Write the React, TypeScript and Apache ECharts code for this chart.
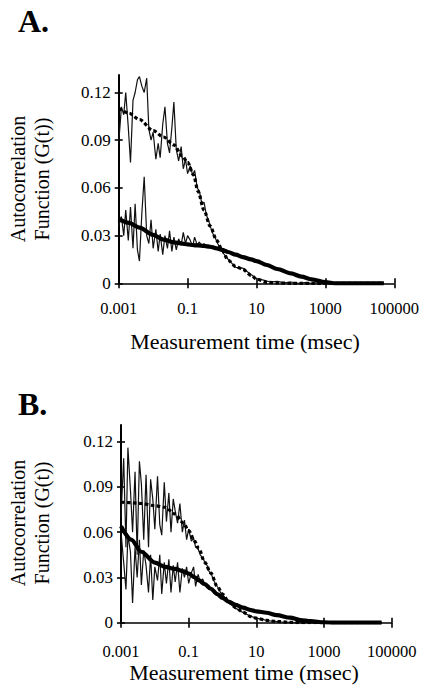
import React, { useEffect, useRef } from "react";
import * as echarts from "echarts";

// ---- tick values ----
const X_TICKS = [0.001, 0.1, 10, 1000, 100000];
const Y_TICKS = [0, 0.03, 0.06, 0.09, 0.12];

// ---- lag times (msec) ----
const T_NOISY = [
  0.001, 0.0012, 0.0014, 0.0016, 0.0019, 0.0022, 0.0026, 0.003, 0.0035, 0.004, 0.0047, 0.0055, 0.0065, 0.0075, 0.0087,
  0.01, 0.012, 0.014, 0.016, 0.019, 0.022, 0.026, 0.03, 0.035, 0.04, 0.047, 0.055, 0.065, 0.075, 0.087,
  0.1, 0.12, 0.14, 0.16, 0.19, 0.22, 0.26, 0.3, 0.35, 0.4, 0.47, 0.55, 0.65, 0.75, 0.87,
  1, 1.5, 2.5, 4, 6.5, 10, 16, 25, 40, 65, 100, 160, 250, 400, 650, 1000, 1600, 2500, 4000, 6500, 10000, 20000, 50000,
];
const T_FIT = [
  0.001, 0.002, 0.004, 0.01, 0.02, 0.04, 0.07, 0.1, 0.15, 0.2, 0.3, 0.45, 0.7, 1, 1.5, 2.5, 4, 7, 10, 20, 40, 100,
  200, 400, 1000, 2000, 10000, 50000,
];

// ---- panel A ----
const A_DATA_1 = [
  0.088, 0.111, 0.106, 0.12, 0.098, 0.076, 0.115, 0.12, 0.128, 0.13, 0.124, 0.12, 0.129, 0.097, 0.09,
  0.095, 0.078, 0.088, 0.079, 0.1, 0.111, 0.088, 0.082, 0.098, 0.114, 0.084, 0.077, 0.086, 0.072, 0.078,
  0.069, 0.074, 0.068, 0.071, 0.06, 0.058, 0.05, 0.051, 0.043, 0.04, 0.035, 0.031, 0.028, 0.025, 0.022,
  0.02, 0.015, 0.01, 0.0095, 0.006, 0.003, 0.002, 0.0008, 0.0012, 0.0003, 0.0008, 0, 0.0005, 0, 0.0004, 0, 0.0003, 0, 0.0002, 0, 0, 0, 0,
];
const A_DATA_2 = [
  0.036, 0.042, 0.03, 0.046, 0.027, 0.048, 0.022, 0.05, 0.021, 0.014, 0.044, 0.067, 0.03, 0.025, 0.04,
  0.022, 0.034, 0.02, 0.031, 0.018, 0.03, 0.022, 0.033, 0.02, 0.029, 0.021, 0.028, 0.024, 0.032, 0.025,
  0.03, 0.027, 0.023, 0.029, 0.024, 0.026, 0.023, 0.025, 0.023, 0.024, 0.022, 0.0235, 0.022, 0.0225, 0.021,
  0.0215, 0.0197, 0.018, 0.0165, 0.0152, 0.014, 0.0123, 0.0107, 0.009, 0.0075, 0.0062, 0.0048, 0.0036, 0.0025, 0.0013, 0.0007, 0.0002, 0, 0, 0, 0, 0, 0,
];
const A_FIT_1 = [
  0.11, 0.107, 0.103, 0.096, 0.092, 0.087, 0.08, 0.076, 0.068, 0.058, 0.046, 0.036, 0.027, 0.021, 0.0145, 0.0105,
  0.0088, 0.005, 0.0027, 0.0006, 0.0002, 0, 0, 0, 0, 0, 0, 0,
];
const A_FIT_2 = [
  0.0405, 0.038, 0.035, 0.0305, 0.0275, 0.0258, 0.025, 0.0245, 0.024, 0.0238, 0.0235, 0.023, 0.022, 0.021, 0.0197,
  0.018, 0.0165, 0.015, 0.014, 0.0115, 0.009, 0.0062, 0.0042, 0.0025, 0.0007, 0, 0, 0,
];

// ---- panel B ----
const B_DATA_1 = [
  0.07, 0.109, 0.05, 0.116, 0.088, 0.06, 0.1, 0.045, 0.107, 0.092, 0.055, 0.098, 0.05, 0.095, 0.082,
  0.062, 0.097, 0.065, 0.058, 0.093, 0.067, 0.086, 0.06, 0.082, 0.074, 0.066, 0.079, 0.06, 0.068, 0.055,
  0.062, 0.054, 0.056, 0.05, 0.049, 0.045, 0.043, 0.04, 0.038, 0.034, 0.032, 0.028, 0.025, 0.023, 0.02,
  0.019, 0.013, 0.0095, 0.0068, 0.0045, 0.003, 0.002, 0.0012, 0.0008, 0.0003, 0.0002, 0, 0, 0, 0, 0, 0, 0, 0, 0, 0, 0, 0,
];
const B_DATA_2 = [
  0.06, 0.04, 0.022, 0.058, 0.047, 0.013, 0.05, 0.03, 0.055, 0.025, 0.048, 0.038, 0.02, 0.045, 0.015,
  0.037, 0.028, 0.045, 0.019, 0.04, 0.026, 0.042, 0.02, 0.038, 0.027, 0.04, 0.02, 0.036, 0.03, 0.037,
  0.026, 0.033, 0.037, 0.024, 0.032, 0.027, 0.029, 0.025, 0.024, 0.023, 0.022, 0.021, 0.019, 0.018, 0.017,
  0.0165, 0.014, 0.0118, 0.01, 0.0085, 0.0075, 0.0068, 0.006, 0.005, 0.004, 0.0033, 0.0025, 0.0018, 0.0012, 0.0007, 0.0003, 0, 0, 0, 0, 0, 0, 0,
];
const B_FIT_1 = [
  0.08, 0.0795, 0.079, 0.0775, 0.0765, 0.072, 0.066, 0.061, 0.054, 0.049, 0.04, 0.033, 0.024, 0.019, 0.014, 0.0098,
  0.007, 0.004, 0.003, 0.0015, 0.0008, 0.0002, 0, 0, 0, 0, 0, 0,
];
const B_FIT_2 = [
  0.064, 0.055, 0.047, 0.0398, 0.037, 0.0356, 0.034, 0.0325, 0.03, 0.028, 0.0255, 0.0225, 0.019, 0.0165, 0.014,
  0.0118, 0.01, 0.0083, 0.0075, 0.0066, 0.005, 0.0033, 0.0018, 0.001, 0.0003, 0, 0, 0,
];

const FONT = "Liberation Serif";
const INK = "#000";

const pairs = (t: number[], v: number[]) => t.map((x, i) => [x, v[i]]);

const fmtX = (v: number) => (v >= 1 ? v.toFixed(0) : String(Number(v.toPrecision(3))));
const fmtY = (v: number) => (v === 0 ? "0" : v.toFixed(2));

function xAxes(gridIndex: number, margin: number) {
  const base = {
    type: "log" as const,
    logBase: 10,
    gridIndex,
    position: "bottom",
    min: 0.001,
    max: 100000,
    splitLine: { show: false },
    minorTick: { show: false },
  };
  return [
    {
      ...base,
      axisLine: { show: true, lineStyle: { color: INK, width: 1.6 } },
      axisTick: { show: true, customValues: X_TICKS, length: 5, inside: false, lineStyle: { color: INK, width: 1.6 } },
      axisLabel: {
        customValues: X_TICKS,
        formatter: fmtX,
        color: INK,
        fontFamily: FONT,
        fontSize: 16.5,
        margin,
      },
    },
    {
      ...base,
      axisLine: { show: false },
      axisTick: { show: true, customValues: X_TICKS, length: 5, inside: true, lineStyle: { color: INK, width: 1.6 } },
      axisLabel: { show: false },
    },
  ];
}

function yAxes(gridIndex: number) {
  const base = {
    type: "value" as const,
    gridIndex,
    position: "left",
    offset: 0,
    min: 0,
    max: 0.131,
    splitLine: { show: false },
  };
  return [
    {
      ...base,
      axisLine: { show: true, lineStyle: { color: INK, width: 2 } },
      axisTick: { show: true, customValues: Y_TICKS, length: 4, inside: false, lineStyle: { color: INK, width: 1.6 } },
      axisLabel: {
        customValues: Y_TICKS,
        formatter: fmtY,
        color: INK,
        fontFamily: FONT,
        fontSize: 17,
        margin: 8,
      },
    },
    {
      ...base,
      axisLine: { show: false },
      axisTick: { show: true, customValues: Y_TICKS, length: 4, inside: true, lineStyle: { color: INK, width: 1.6 } },
      axisLabel: { show: false },
    },
  ];
}

function panelSeries(axisIndex: number, d1: number[], d2: number[], f1: number[], f2: number[]) {
  const common = {
    type: "line" as const,
    xAxisIndex: axisIndex,
    yAxisIndex: axisIndex,
    symbol: "none",
    silent: true,
    clip: true,
  };
  return [
    { ...common, data: pairs(T_NOISY, d1), lineStyle: { color: "#111", width: 1.2 }, z: 2 },
    { ...common, data: pairs(T_NOISY, d2), lineStyle: { color: "#111", width: 1.2 }, z: 2 },
    {
      ...common,
      data: pairs(T_FIT, f1),
      smooth: 0.3,
      smoothMonotone: "x",
      lineStyle: { color: INK, width: 3.2, type: [3.5, 2.5] },
      z: 3,
    },
    {
      ...common,
      data: pairs(T_FIT, f2),
      smooth: 0.3,
      smoothMonotone: "x",
      lineStyle: { color: INK, width: 4.2 },
      z: 4,
    },
  ];
}

function label(text: string, x: number, y: number, size: number, opts: any = {}) {
  return {
    type: "text",
    x,
    y,
    rotation: opts.rotation || 0,
    style: {
      text,
      fill: INK,
      fontFamily: FONT,
      fontSize: size,
      fontWeight: opts.bold ? "bold" : "normal",
      align: opts.align || "center",
      verticalAlign: "middle",
    },
  };
}

export default function App() {
  const ref = useRef<HTMLDivElement>(null);

  useEffect(() => {
    if (!ref.current) return;
    const chart = echarts.init(ref.current, null, { renderer: "svg" });
    const option: any = {
      animation: false,
      backgroundColor: "#fff",
      textStyle: { fontFamily: FONT },
      grid: [
        { left: 118.7, top: 75, width: 276.3, height: 208.3 },
        { left: 121, top: 425, width: 270.7, height: 197.7 },
      ],
      xAxis: [...xAxes(0, 17), ...xAxes(1, 20)],
      yAxis: [...yAxes(0), ...yAxes(1)],
      series: [
        ...panelSeries(0, A_DATA_1, A_DATA_2, A_FIT_1, A_FIT_2),
        ...panelSeries(2, B_DATA_1, B_DATA_2, B_FIT_1, B_FIT_2),
      ],
      graphic: [
        label("A.", 18, 21, 32, { bold: true, align: "left" }),
        label("B.", 18, 404, 32, { bold: true, align: "left" }),
        label("Autocorrelation", 18, 179, 20, { rotation: Math.PI / 2 }),
        label("Function (G(t))", 42, 179, 20, { rotation: Math.PI / 2 }),
        label("Autocorrelation", 18, 523, 20, { rotation: Math.PI / 2 }),
        label("Function (G(t))", 42, 523, 20, { rotation: Math.PI / 2 }),
        label("Measurement time (msec)", 245, 341, 22),
        label("Measurement time (msec)", 244, 672, 22),
      ],
    };
    chart.setOption(option);
    return () => chart.dispose();
  }, []);

  return (
    <div
      ref={ref}
      style={{ position: "fixed", left: 0, top: 0, width: 422, height: 698, background: "#fff" }}
    />
  );
}
